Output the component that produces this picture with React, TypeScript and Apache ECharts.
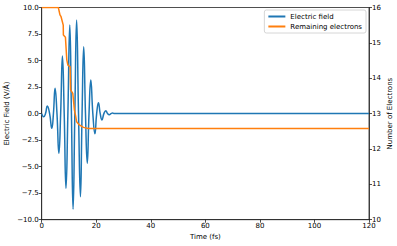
import React, { useEffect, useRef } from "react";
import * as echarts from "echarts";

const xTicks = { min: 0, max: 120, interval: 20 };
const leftTicks = { min: -10, max: 10, interval: 2.5 };
const rightTicks = { min: 10, max: 16, interval: 1 };

const fieldTime = [0, 0.7, 1.4, 2.05, 2.9, 3.7, 4.3, 4.9, 5.6, 6.3, 6.95, 7.6, 8.25, 8.9, 9.6, 10.3, 10.9, 11.5, 12.15, 12.8, 13.5, 14.2, 14.8, 15.4, 16.05, 16.7, 17.35, 18.0, 18.75, 19.5, 20.15, 20.8, 21.45, 22.1, 22.8, 23.5, 24.15, 24.8, 25.4, 26.0, 26.7, 27.5, 120];
const fieldValue = [0, -0.3, 0, 0.72, 0, -1.39, 0, 2.38, 0, -3.74, 0, 5.43, 0, -7.04, 0, 8.35, 0, -9.02, 0, 8.82, 0, -7.83, 0, 6.3, 0, -4.68, 0, 3.17, 0, -1.9, 0, 1.03, 0, -0.6, 0, 0.27, 0, -0.1, 0, 0.05, 0, 0, 0];

const elecTime = [0, 6.1, 6.7, 7.1, 7.9, 7.95, 8.7, 9.2, 9.6, 10.4, 10.6, 11.4, 12.0, 12.4, 12.8, 13.8, 15.3, 17, 120];
const elecValue = [16, 16, 15.79, 15.74, 15.5, 15.22, 15.16, 14.52, 14.37, 14.33, 13.67, 13.57, 13.1, 12.95, 12.77, 12.68, 12.61, 12.58, 12.58];

const FONT = "DejaVu Sans";
const TXT = "#000";

export default function App() {
  const ref = useRef<HTMLDivElement>(null);
  useEffect(() => {
    if (!ref.current) return;
    const chart = echarts.init(ref.current, undefined, { renderer: "svg" });
    const axisCommon = {
      axisLine: { show: true, onZero: false, lineStyle: { color: "#222", width: 0.8 } },
      axisTick: { show: true, inside: false, length: 3, lineStyle: { color: "#222", width: 0.8 } },
      axisLabel: { color: TXT, fontFamily: FONT, fontSize: 7, margin: 3 },
      splitLine: { show: false },
      nameMoveOverlap: false,
      nameTextStyle: { color: TXT, fontFamily: FONT, fontSize: 7 },
    };
    chart.setOption({
      animation: false,
      backgroundColor: "#fff",
      grid: {
        left: 41.7,
        right: 28,
        top: 7.5,
        bottom: 26.3,
        show: true,
        borderColor: "#222",
        borderWidth: 0.8,
        containLabel: false,
        outerBoundsMode: "none",
      },
      legend: {
        show: true,
        orient: "vertical",
        right: 31,
        top: 10,
        padding: [3, 4, 3, 4],
        itemGap: 3,
        itemWidth: 17,
        itemHeight: 2,
        icon: "rect",
        borderColor: "#ccc",
        borderWidth: 0.8,
        borderRadius: 2,
        backgroundColor: "rgba(255,255,255,0.8)",
        textStyle: { color: TXT, fontFamily: FONT, fontSize: 7, padding: [0, 0, 0, 0] },
        data: ["Electric field", "Remaining electrons"],
      },
      xAxis: {
        type: "value",
        ...xTicks,
        ...axisCommon,
        name: "Time (fs)",
        nameLocation: "middle",
        nameGap: 14,
      },
      yAxis: [
        {
          type: "value",
          ...leftTicks,
          ...axisCommon,
          axisLabel: {
            ...axisCommon.axisLabel,
            formatter: (v: number) => v.toFixed(1).replace("-", "\u2212"),
          },
          name: "Electric Field (V/\u00c5)",
          nameLocation: "middle",
          nameGap: 31,
        },
        {
          type: "value",
          position: "right",
          ...rightTicks,
          ...axisCommon,
          name: "Number of Electrons",
          nameLocation: "middle",
          nameGap: 17,
          nameRotate: 90,
        },
      ],
      series: [
        {
          name: "Electric field",
          type: "line",
          yAxisIndex: 0,
          data: fieldTime.map((t, i) => [t, fieldValue[i]]),
          showSymbol: false,
          smooth: 0.5,
          lineStyle: { color: "#1f77b4", width: 1.5 },
          itemStyle: { color: "#1f77b4" },
          z: 2,
        },
        {
          name: "Remaining electrons",
          type: "line",
          yAxisIndex: 1,
          data: elecTime.map((t, i) => [t, elecValue[i]]),
          showSymbol: false,
          lineStyle: { color: "#ff7f0e", width: 1.5 },
          itemStyle: { color: "#ff7f0e" },
          z: 3,
        },
      ],
    });
    return () => chart.dispose();
  }, []);
  return <div ref={ref} style={{ width: 397, height: 246, position: "absolute", left: 0, top: 0 }} />;
}
